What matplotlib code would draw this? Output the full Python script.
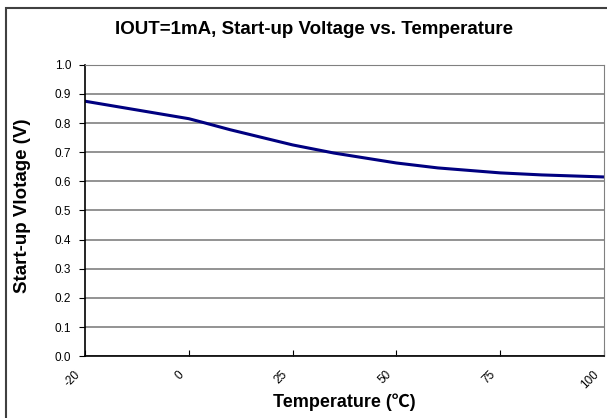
import numpy as np
import matplotlib
matplotlib.use("Agg")
import matplotlib.pyplot as plt
from matplotlib.patches import Rectangle
from matplotlib.transforms import ScaledTranslation

plt.rcParams['font.family'] = ['Liberation Sans', 'Noto Sans CJK SC', 'DejaVu Sans']

# category axis (Excel-style, equally spaced)
categories = [-20, 0, 25, 50, 75, 100]
cat_labels = ['-20', '0', '25', '50', '75', '100']

# measured curve
temps = [-20, 0, 4, 10, 25, 35, 50, 60, 75, 85, 100]
volts = [0.875, 0.815, 0.800, 0.777, 0.725, 0.697, 0.663, 0.646, 0.629, 0.622, 0.615]

pos = np.interp(temps, categories, np.arange(len(categories)))

fig = plt.figure(figsize=(6.07, 4.18), dpi=100)
ax = fig.add_axes([0.140, 0.148, 0.855, 0.697])

ax.plot(pos, volts, color='#000080', lw=2.2, solid_joinstyle='round')

ax.set_xlim(0, len(categories) - 1)
ax.set_ylim(0, 1.0)
yt = np.arange(0, 1.01, 0.1)
ax.set_yticks(yt)
ax.set_yticklabels([f"{v:.1f}" for v in yt], fontsize=8.5)
ax.set_xticks(range(len(categories)))
ax.set_xticklabels(cat_labels, fontsize=8.5, rotation=45, ha='right', va='center',
                   rotation_mode='anchor')
ax.tick_params(axis='x', direction='in', length=4, pad=12)
ax.tick_params(axis='y', direction='out', length=4, pad=6)
shift = ScaledTranslation(-5 / 72, 0, fig.dpi_scale_trans)
for lab in ax.get_xticklabels():
    lab.set_transform(lab.get_transform() + shift)

ax.grid(axis='y', color='#808080', lw=1.2)
ax.set_axisbelow(True)
for s in ['top', 'right']:
    ax.spines[s].set_color('#808080')
for s in ['left', 'bottom']:
    ax.spines[s].set_color('black')
    ax.spines[s].set_linewidth(1.2)

ax.set_xlabel('Temperature (℃)', fontsize=13, fontweight='bold', labelpad=2)
ax.set_ylabel('Start-up Vlotage (V)', fontsize=13.5, fontweight='bold')
ax.yaxis.set_label_coords(-0.104, 0.517)
fig.text(0.518, 0.930, 'IOUT=1mA, Start-up Voltage vs. Temperature',
         ha='center', va='center', fontsize=13.5, fontweight='bold')

# outer chart border
fig.patches.append(Rectangle((6 / 607, -0.05), 1.0, 1.05 - 8 / 418,
                             transform=fig.transFigure, fill=False,
                             edgecolor='#404040', lw=1.5))

fig.savefig('out.png', dpi=100)
